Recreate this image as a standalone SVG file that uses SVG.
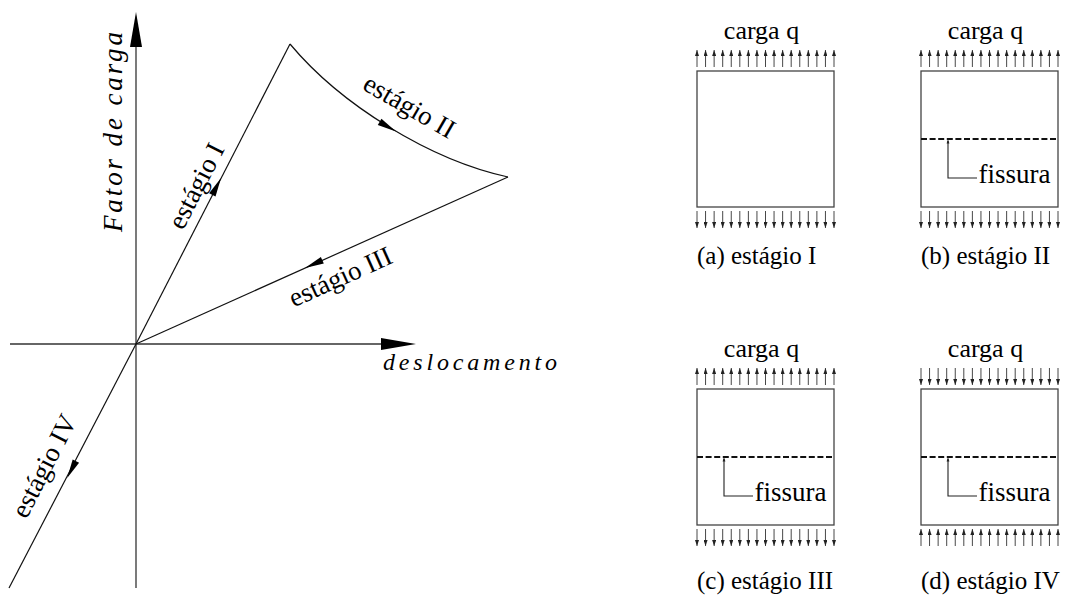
<svg xmlns="http://www.w3.org/2000/svg" xmlns:xlink="http://www.w3.org/1999/xlink" width="1073" height="596" viewBox="0 0 1073 596">
  <style>
    .ax { stroke: #333; stroke-width: 1.3; fill: none; }
    .ln { stroke: #111; stroke-width: 1.2; fill: none; }
    .hd { fill: #000; stroke: none; }
    .box { stroke: #444; stroke-width: 1.3; fill: none; }
    .crack { stroke: #111; stroke-width: 1.8; stroke-dasharray: 6 2.6; fill: none; }
    .lead { stroke: #222; stroke-width: 1.1; fill: none; }
    .ld { stroke: #333; stroke-width: 0.9; marker-end: url(#tip-s); }
    .t { font-family: "Liberation Serif", "Times New Roman", serif; font-size: 26px; fill: #000; }
    .st { font-family: "Liberation Serif", "Times New Roman", serif; font-size: 27px; fill: #000; }
    .cap { font-family: "Liberation Serif", "Times New Roman", serif; font-size: 25px; fill: #000; }
    .it { font-family: "Liberation Serif", "Times New Roman", serif; font-style: italic; fill: #000; }
  </style>
  <defs>
    <marker id="tip-s" markerUnits="userSpaceOnUse" markerWidth="6" markerHeight="4" viewBox="0 0 6 4" refX="6" refY="2" orient="auto">
      <path d="M0,0 L6,2 L0,4 z" fill="#222"/>
    </marker>
    <!-- mid-line arrowhead, tip at origin pointing +x -->
    <path id="head-m" class="hd" d="M0,0 L-19,-3.6 L-19,3.6 z"/>
    <!-- axis arrowhead -->
    <path id="head-ax" class="hd" d="M0,0 L-35,-6 L-35,6 z"/>
    <!-- row of 17 load arrows pointing up, tails on y=0 -->
    <g id="row-up">
      <line class="ld" x1="0" y1="0" x2="0" y2="-17"/>
      <line class="ld" x1="8.56" y1="0" x2="8.56" y2="-17"/>
      <line class="ld" x1="17.13" y1="0" x2="17.13" y2="-17"/>
      <line class="ld" x1="25.69" y1="0" x2="25.69" y2="-17"/>
      <line class="ld" x1="34.25" y1="0" x2="34.25" y2="-17"/>
      <line class="ld" x1="42.81" y1="0" x2="42.81" y2="-17"/>
      <line class="ld" x1="51.38" y1="0" x2="51.38" y2="-17"/>
      <line class="ld" x1="59.94" y1="0" x2="59.94" y2="-17"/>
      <line class="ld" x1="68.5" y1="0" x2="68.5" y2="-17"/>
      <line class="ld" x1="77.06" y1="0" x2="77.06" y2="-17"/>
      <line class="ld" x1="85.63" y1="0" x2="85.63" y2="-17"/>
      <line class="ld" x1="94.19" y1="0" x2="94.19" y2="-17"/>
      <line class="ld" x1="102.75" y1="0" x2="102.75" y2="-17"/>
      <line class="ld" x1="111.31" y1="0" x2="111.31" y2="-17"/>
      <line class="ld" x1="119.88" y1="0" x2="119.88" y2="-17"/>
      <line class="ld" x1="128.44" y1="0" x2="128.44" y2="-17"/>
      <line class="ld" x1="137" y1="0" x2="137" y2="-17"/>
    </g>
    <!-- row of 17 load arrows pointing down, tails on y=0 -->
    <g id="row-down">
      <line class="ld" x1="0" y1="0" x2="0" y2="17"/>
      <line class="ld" x1="8.56" y1="0" x2="8.56" y2="17"/>
      <line class="ld" x1="17.13" y1="0" x2="17.13" y2="17"/>
      <line class="ld" x1="25.69" y1="0" x2="25.69" y2="17"/>
      <line class="ld" x1="34.25" y1="0" x2="34.25" y2="17"/>
      <line class="ld" x1="42.81" y1="0" x2="42.81" y2="17"/>
      <line class="ld" x1="51.38" y1="0" x2="51.38" y2="17"/>
      <line class="ld" x1="59.94" y1="0" x2="59.94" y2="17"/>
      <line class="ld" x1="68.5" y1="0" x2="68.5" y2="17"/>
      <line class="ld" x1="77.06" y1="0" x2="77.06" y2="17"/>
      <line class="ld" x1="85.63" y1="0" x2="85.63" y2="17"/>
      <line class="ld" x1="94.19" y1="0" x2="94.19" y2="17"/>
      <line class="ld" x1="102.75" y1="0" x2="102.75" y2="17"/>
      <line class="ld" x1="111.31" y1="0" x2="111.31" y2="17"/>
      <line class="ld" x1="119.88" y1="0" x2="119.88" y2="17"/>
      <line class="ld" x1="128.44" y1="0" x2="128.44" y2="17"/>
      <line class="ld" x1="137" y1="0" x2="137" y2="17"/>
    </g>
    <!-- crack marker with leader, relative to box top-left -->
    <g id="crack">
      <line class="crack" x1="0" y1="68" x2="137" y2="68"/>
      <polyline class="lead" points="27,70 27,107 56,107"/>
      <path d="M27,68 L25.6,72.5 L28.4,72.5 z" fill="#222"/>
      <text class="st" x="57.5" y="112">fissura</text>
    </g>
  </defs>

  <rect width="1073" height="596" fill="#fff"/>

  <!-- load-factor vs displacement plot -->
  <g id="axes">
    <line class="ax" x1="136" y1="588" x2="136" y2="46"/>
    <use xlink:href="#head-ax" transform="translate(136,12) rotate(-90)"/>
    <line class="ax" x1="10" y1="344" x2="382" y2="344"/>
    <use xlink:href="#head-ax" transform="translate(416,344)"/>
    <text class="it" font-size="27" transform="translate(122,232) rotate(-90)" textLength="200" lengthAdjust="spacing">Fator de carga</text>
    <text class="it" font-size="24" x="383" y="370" textLength="174" lengthAdjust="spacing">deslocamento</text>
  </g>

  <g id="connectors">
    <!-- stage I: loading up to the peak -->
    <line class="ln" x1="136" y1="344" x2="290" y2="44"/>
    <use xlink:href="#head-m" transform="translate(221,178) rotate(-62.83)"/>
    <!-- stage II: softening branch -->
    <path class="ln" d="M290,44 C341,105 430,160 508,177"/>
    <use xlink:href="#head-m" transform="translate(396,131.4) rotate(30.4)"/>
    <!-- stage III: unloading back to origin -->
    <line class="ln" x1="508" y1="177" x2="136" y2="344"/>
    <use xlink:href="#head-m" transform="translate(305,268) rotate(155.8)"/>
    <!-- stage IV: reversed load -->
    <line class="ln" x1="136" y1="344" x2="9" y2="588"/>
    <use xlink:href="#head-m" transform="translate(67.2,478) rotate(117.17)"/>
  </g>

  <g id="stage-labels">
    <text class="st" text-anchor="middle" transform="translate(204,190) rotate(-62.83)">estágio I</text>
    <text class="st" text-anchor="middle" transform="translate(405,114) rotate(30)">estágio II</text>
    <text class="st" text-anchor="middle" transform="translate(344,285) rotate(-24.18)">estágio III</text>
    <text class="st" text-anchor="middle" transform="translate(52,470) rotate(-62.83)">estágio IV</text>
  </g>

  <!-- (a) stage I: uncracked, tension -->
  <g id="panel-a">
    <text class="t" x="761.5" y="39" text-anchor="middle">carga q</text>
    <use xlink:href="#row-up" x="697" y="67"/>
    <rect class="box" x="697" y="71" width="137" height="136"/>
    <use xlink:href="#row-down" x="697" y="211"/>
    <text class="cap" x="697" y="264">(a) estágio I</text>
  </g>

  <!-- (b) stage II: cracked, tension -->
  <g id="panel-b">
    <text class="t" x="985.5" y="39" text-anchor="middle">carga q</text>
    <use xlink:href="#row-up" x="921" y="67"/>
    <rect class="box" x="921" y="71" width="137" height="136"/>
    <use xlink:href="#crack" x="921" y="71"/>
    <use xlink:href="#row-down" x="921" y="211"/>
    <text class="cap" x="921" y="264">(b) estágio II</text>
  </g>

  <!-- (c) stage III: cracked, unloading -->
  <g id="panel-c">
    <text class="t" x="761.5" y="357" text-anchor="middle">carga q</text>
    <use xlink:href="#row-up" x="697" y="385"/>
    <rect class="box" x="697" y="389" width="137" height="136"/>
    <use xlink:href="#crack" x="697" y="389"/>
    <use xlink:href="#row-down" x="697" y="529"/>
    <text class="cap" x="697" y="589">(c) estágio III</text>
  </g>

  <!-- (d) stage IV: cracked, compression -->
  <g id="panel-d">
    <text class="t" x="985.5" y="357" text-anchor="middle">carga q</text>
    <use xlink:href="#row-down" x="921" y="368"/>
    <rect class="box" x="921" y="389" width="137" height="136"/>
    <use xlink:href="#crack" x="921" y="389"/>
    <use xlink:href="#row-up" x="921" y="546"/>
    <text class="cap" x="921" y="589">(d) estágio IV</text>
  </g>
</svg>
